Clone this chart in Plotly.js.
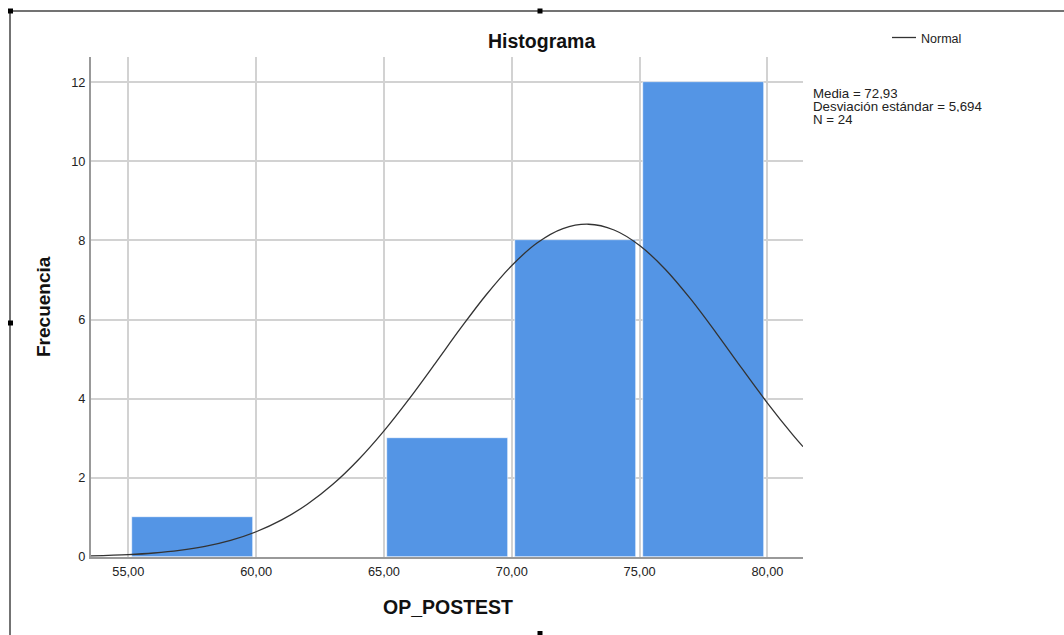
<!DOCTYPE html>
<html>
<head>
<meta charset="utf-8">
<script src="https://cdn.plot.ly/plotly-3.0.1.min.js"></script>
<style>html,body{margin:0;padding:0;background:#fff;}#chart{width:1064px;height:635px;}</style>
</head>
<body>
<div id="chart"></div>
<script>
// Histogram bins (lower bound of each 5-unit bin) and frequencies
var binStarts = [55, 60, 65, 70, 75];
var frequencies = [1, 0, 3, 8, 12];
var binWidth = 5;

// Normal curve overlay (Media = 72,93, DE = 5,694, N = 24)
var curveX = [53.54, 55, 56, 57, 58, 59, 60, 61, 62, 63, 64, 65, 66, 67, 68, 69, 70, 71, 72, 73, 74, 75, 76, 77, 78, 79, 80, 81, 81.39];
var curveY = [0.026, 0.059, 0.101, 0.168, 0.270, 0.422, 0.638, 0.937, 1.332, 1.837, 2.458, 3.188, 4.009, 4.888, 5.780, 6.626, 7.365, 7.939, 8.297, 8.407, 8.261, 7.870, 7.271, 6.513, 5.657, 4.763, 3.890, 3.080, 2.788];

var xTickVals = [55, 60, 65, 70, 75, 80];
var xTickText = ["55,00", "60,00", "65,00", "70,00", "75,00", "80,00"];
var yTickVals = [0, 2, 4, 6, 8, 10, 12];

var statsLines = ["Media = 72,93", "Desviación estándar = 5,694", "N = 24"];
var legendLabel = "Normal";

var binCenters = binStarts.map(function(b){ return b + binWidth / 2; });

var FONT = "Liberation Sans, Arial, Helvetica, sans-serif";

var traces = [
  {
    type: "bar",
    x: binCenters,
    y: frequencies,
    width: binWidth * 0.948,
    marker: {color: "#5495e5", line: {color: "#ffffff", width: 0.6}},
    hoverinfo: "x+y",
    showlegend: false
  },
  {
    type: "scatter",
    mode: "lines",
    x: curveX,
    y: curveY,
    name: legendLabel,
    line: {color: "#333333", width: 1.3, shape: "spline"},
    showlegend: false
  }
];

// paper coordinate helpers (plot area: x 91..803, y 57..557)
function px(x){ return (x - 91) / 712; }
function py(y){ return (557 - y) / 500; }

var shapes = [
  {type: "line", xref: "paper", yref: "paper", x0: px(8), x1: px(1064), y0: py(11), y1: py(11), line: {color: "#444", width: 1.5}},
  {type: "line", xref: "paper", yref: "paper", x0: px(10), x1: px(10), y0: py(11), y1: py(640), line: {color: "#444", width: 1.5}},
  {type: "line", xref: "paper", yref: "paper", x0: px(892), x1: px(916), y0: py(37.5), y1: py(37.5), line: {color: "#333", width: 1.3}}
];
[[10.5, 11], [540, 11], [10.5, 323], [540, 633.5]].forEach(function(p){
  shapes.push({type: "rect", xref: "paper", yref: "paper", xsizemode: "pixel", ysizemode: "pixel",
    xanchor: px(p[0]), yanchor: py(p[1]), x0: -2.5, x1: 2.5, y0: -2.5, y1: 2.5,
    fillcolor: "#000", line: {width: 0}});
});

var annotations = [
  {text: "<b>Histograma</b>", xref: "paper", yref: "paper", x: px(541), y: py(41), xanchor: "center", yanchor: "middle", showarrow: false, font: {family: FONT, size: 19.5, color: "#111"}},
  {text: "<b>OP_POSTEST</b>", xref: "paper", yref: "paper", x: px(447.7), y: py(607), xanchor: "center", yanchor: "middle", showarrow: false, font: {family: FONT, size: 19.5, color: "#111"}},
  {text: "<b>Frecuencia</b>", xref: "paper", yref: "paper", x: px(43.5), y: py(306.5), xanchor: "center", yanchor: "middle", textangle: -90, showarrow: false, font: {family: FONT, size: 19, color: "#111"}},
  {text: legendLabel, xref: "paper", yref: "paper", x: px(918.5), y: py(38.5), xanchor: "left", yanchor: "middle", showarrow: false, font: {family: FONT, size: 12.5, color: "#222"}}
];
var statsY = [93.5, 106, 118.5];
statsLines.forEach(function(t, i){
  annotations.push({text: t, xref: "paper", yref: "paper", x: px(810.5), y: py(statsY[i]), xanchor: "left", yanchor: "middle",
    height: 12, valign: "middle", showarrow: false, font: {family: FONT, size: 13.3, color: "#222"}});
});

var layout = {
  width: 1064, height: 635,
  margin: {l: 91, r: 261, t: 57, b: 78, pad: 0},
  paper_bgcolor: "#ffffff",
  plot_bgcolor: "#ffffff",
  font: {family: FONT, size: 12.5, color: "#222"},
  bargap: 0,
  xaxis: {
    range: [53.54, 81.39],
    tickvals: xTickVals, ticktext: xTickText,
    showgrid: true, gridcolor: "#d2d2d2", gridwidth: 1.6,
    showline: true, linecolor: "#999", linewidth: 2,
    zeroline: false, ticks: "", ticklabelstandoff: 2,
    tickfont: {family: FONT, size: 12.8, color: "#222"},
    fixedrange: true
  },
  yaxis: {
    range: [0, 12.632],
    tickvals: yTickVals,
    showgrid: true, gridcolor: "#d2d2d2", gridwidth: 1.6,
    showline: true, linecolor: "#999", linewidth: 2,
    zeroline: false, ticks: "", ticklabelstandoff: 1,
    tickfont: {family: FONT, size: 12.8, color: "#222"},
    fixedrange: true
  },
  shapes: shapes,
  annotations: annotations,
  showlegend: false
};

Plotly.newPlot("chart", traces, layout, {displayModeBar: false, responsive: false});
</script>
</body>
</html>
